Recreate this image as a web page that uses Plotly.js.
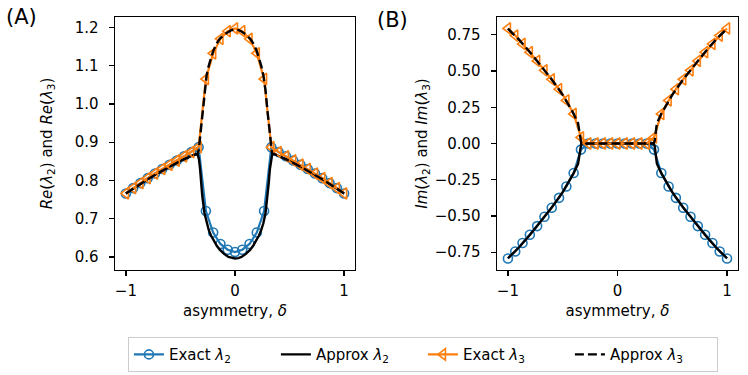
<!DOCTYPE html>
<html>
<head>
<meta charset="utf-8">
<script src="https://cdn.plot.ly/plotly-3.0.1.min.js"></script>
<style>html,body{margin:0;padding:0;background:#fff;}#chart{width:748px;height:375px;}</style>
</head>
<body>
<div id="chart"></div>
<script>
// Exact eigenvalues, sampled on 31 asymmetry values
const exactX = [-1, -0.9333, -0.8667, -0.8, -0.7333, -0.6667, -0.6, -0.5333, -0.4667, -0.4, -0.3333,
  -0.2667, -0.2, -0.1333, -0.0667, 0, 0.0667, 0.1333, 0.2, 0.2667,
  0.3333, 0.4, 0.4667, 0.5333, 0.6, 0.6667, 0.7333, 0.8, 0.8667, 0.9333, 1];
const exactRe2 = [0.766, 0.780, 0.793, 0.806, 0.818, 0.830, 0.841, 0.852, 0.863, 0.874, 0.887,
  0.720, 0.664, 0.634, 0.619, 0.613, 0.619, 0.634, 0.664, 0.720,
  0.887, 0.874, 0.863, 0.852, 0.841, 0.830, 0.818, 0.806, 0.793, 0.780, 0.766];
const exactRe3 = [0.766, 0.780, 0.793, 0.806, 0.818, 0.830, 0.841, 0.852, 0.863, 0.874, 0.887,
  1.065, 1.132, 1.170, 1.190, 1.197, 1.190, 1.170, 1.132, 1.065,
  0.887, 0.874, 0.863, 0.852, 0.841, 0.830, 0.818, 0.806, 0.793, 0.780, 0.766];
const exactIm2 = [-0.794, -0.745, -0.687, -0.630, -0.570, -0.505, -0.443, -0.375, -0.297, -0.204, -0.042,
  0, 0, 0, 0, 0, 0, 0, 0, 0,
  -0.042, -0.204, -0.297, -0.375, -0.443, -0.505, -0.570, -0.630, -0.687, -0.745, -0.794];
const exactIm3 = [0.794, 0.745, 0.687, 0.630, 0.570, 0.505, 0.443, 0.375, 0.297, 0.204, 0.042,
  0, 0, 0, 0, 0, 0, 0, 0, 0,
  0.042, 0.204, 0.297, 0.375, 0.443, 0.505, 0.570, 0.630, 0.687, 0.745, 0.794];

// Approximate eigenvalues, on a finer grid
const approxX = [-1, -0.9, -0.8, -0.7, -0.6, -0.5, -0.4, -0.36, -0.34, -0.33, -0.32, -0.31, -0.30, -0.28, -0.26, -0.24, -0.22, -0.20, -0.17, -0.14, -0.10, -0.06, -0.03,
  0, 0.03, 0.06, 0.10, 0.14, 0.17, 0.20, 0.22, 0.24, 0.26, 0.28, 0.30, 0.31, 0.32, 0.33, 0.34, 0.36, 0.4, 0.5, 0.6, 0.7, 0.8, 0.9, 1];
const approxRe2 = [0.766, 0.785, 0.803, 0.820, 0.836, 0.851, 0.864, 0.869, 0.866, 0.855, 0.830, 0.795, 0.760, 0.715, 0.688, 0.670, 0.656, 0.645, 0.631, 0.619, 0.608, 0.600, 0.597,
  0.596, 0.597, 0.600, 0.608, 0.619, 0.631, 0.645, 0.656, 0.670, 0.688, 0.715, 0.760, 0.795, 0.830, 0.855, 0.866, 0.869, 0.864, 0.851, 0.836, 0.820, 0.803, 0.785, 0.766];
const approxRe3 = [0.766, 0.785, 0.803, 0.820, 0.836, 0.851, 0.864, 0.869, 0.870, 0.885, 0.915, 0.945, 0.975, 1.035, 1.075, 1.100, 1.120, 1.138, 1.157, 1.170, 1.181, 1.189, 1.193,
  1.194, 1.193, 1.189, 1.181, 1.170, 1.157, 1.138, 1.120, 1.100, 1.075, 1.035, 0.975, 0.945, 0.915, 0.885, 0.870, 0.869, 0.864, 0.851, 0.836, 0.820, 0.803, 0.785, 0.766];
const approxIm2 = [-0.792, -0.718, -0.632, -0.540, -0.442, -0.336, -0.205, -0.140, -0.020, 0, 0, 0, 0, 0, 0, 0, 0, 0, 0, 0, 0, 0, 0,
  0, 0, 0, 0, 0, 0, 0, 0, 0, 0, 0, 0, 0, 0, 0, -0.020, -0.140, -0.205, -0.336, -0.442, -0.540, -0.632, -0.718, -0.792];
const approxIm3 = [0.792, 0.718, 0.632, 0.540, 0.442, 0.336, 0.205, 0.140, 0.020, 0, 0, 0, 0, 0, 0, 0, 0, 0, 0, 0, 0, 0, 0,
  0, 0, 0, 0, 0, 0, 0, 0, 0, 0, 0, 0, 0, 0, 0, 0.020, 0.140, 0.205, 0.336, 0.442, 0.540, 0.632, 0.718, 0.792];

const seriesNames = ['Exact <i>λ</i><sub>2</sub>', 'Approx <i>λ</i><sub>2</sub>', 'Exact <i>λ</i><sub>3</sub>', 'Approx <i>λ</i><sub>3</sub>'];
const xTicks = [-1, 0, 1];
const yTicksA = [0.6, 0.7, 0.8, 0.9, 1.0, 1.1, 1.2];
const yTicksB = [-0.75, -0.5, -0.25, 0, 0.25, 0.5, 0.75];

const BLUE = '#1f77b4', ORANGE = '#ff7f0e';
const FONT = 'DejaVu Sans, sans-serif';

function panelTraces(xa, ya, e2, a2, e3, a3, legend) {
  return [
    {x: exactX, y: e2, xaxis: xa, yaxis: ya, name: seriesNames[0], showlegend: legend, mode: 'lines+markers',
     line: {color: BLUE, width: 2.2}, marker: {symbol: 'circle-open', size: 9, color: BLUE, line: {width: 1.6, color: BLUE}}},
    {x: approxX, y: a2, xaxis: xa, yaxis: ya, name: seriesNames[1], showlegend: legend, mode: 'lines',
     line: {color: '#000', width: 2.4}},
    {x: exactX, y: e3, xaxis: xa, yaxis: ya, name: seriesNames[2], showlegend: legend, mode: 'lines+markers',
     line: {color: ORANGE, width: 2.2}, marker: {symbol: 'triangle-left-open', size: 10, color: ORANGE, line: {width: 1.6, color: ORANGE}}},
    {x: approxX, y: a3, xaxis: xa, yaxis: ya, name: seriesNames[3], showlegend: legend, mode: 'lines',
     line: {color: '#000', width: 2.4, dash: '9px,4px'}}
  ];
}

const data = [].concat(
  panelTraces('x', 'y', exactRe2, approxRe2, exactRe3, approxRe3, true),
  panelTraces('x2', 'y2', exactIm2, approxIm2, exactIm3, approxIm3, false)
);

const axisCommon = {
  showline: true, mirror: true, linecolor: '#000', linewidth: 1.3,
  ticks: 'outside', ticklen: 5, tickwidth: 1.3, tickcolor: '#000',
  showgrid: false, zeroline: false, automargin: false,
  tickfont: {family: FONT, size: 15, color: '#000'}
};

const layout = {
  width: 748, height: 375,
  margin: {l: 0, r: 0, t: 0, b: 0},
  paper_bgcolor: '#fff', plot_bgcolor: '#fff',
  font: {family: FONT, size: 15, color: '#000'},
  showlegend: true,
  xaxis: Object.assign({}, axisCommon, {domain: [0.1537, 0.4746], range: [-1.1, 1.1], tickvals: xTicks, anchor: 'y',
    ticklabelstandoff: 2,
    title: {text: 'asymmetry, <i>δ</i>', font: {family: FONT, size: 15, color: '#000'}, standoff: 6}}),
  yaxis: Object.assign({}, axisCommon, {domain: [0.28, 0.9547], range: [0.566, 1.227], tickvals: yTicksA, tickformat: '.1f', anchor: 'x',
    ticklabelstandoff: 7,
    title: {text: '<i>Re</i>(<i>λ</i><sub>2</sub>) and <i>Re</i>(<i>λ</i><sub>3</sub>)', font: {family: FONT, size: 15, color: '#000'}, standoff: 18}}),
  xaxis2: Object.assign({}, axisCommon, {domain: [0.6644, 0.9866], range: [-1.1, 1.1], tickvals: xTicks, anchor: 'y2',
    ticklabelstandoff: 2,
    title: {text: 'asymmetry, <i>δ</i>', font: {family: FONT, size: 15, color: '#000'}, standoff: 6}}),
  yaxis2: Object.assign({}, axisCommon, {domain: [0.28, 0.9547], range: [-0.873, 0.873], tickvals: yTicksB, tickformat: '.2f', anchor: 'x2',
    ticklabelstandoff: 7,
    title: {text: '<i>Im</i>(<i>λ</i><sub>2</sub>) and <i>Im</i>(<i>λ</i><sub>3</sub>)', font: {family: FONT, size: 15, color: '#000'}, standoff: 3}}),
  legend: {orientation: 'h', x: 0.171, xanchor: 'left', y: 0.101, yanchor: 'top',
    bordercolor: '#cccccc', borderwidth: 1, bgcolor: '#fff', entrywidth: 102,
    font: {family: FONT, size: 15, color: '#000'}},
  annotations: [
    {text: '(A)', xref: 'paper', yref: 'paper', x: 0.006, y: 0.955, xanchor: 'left', yanchor: 'middle', showarrow: false,
     font: {family: FONT, size: 21, color: '#000'}},
    {text: '(B)', xref: 'paper', yref: 'paper', x: 0.502, y: 0.947, xanchor: 'left', yanchor: 'middle', showarrow: false,
     font: {family: FONT, size: 21, color: '#000'}}
  ]
};

Plotly.newPlot('chart', data, layout, {displayModeBar: false, staticPlot: true});
</script>
</body>
</html>
